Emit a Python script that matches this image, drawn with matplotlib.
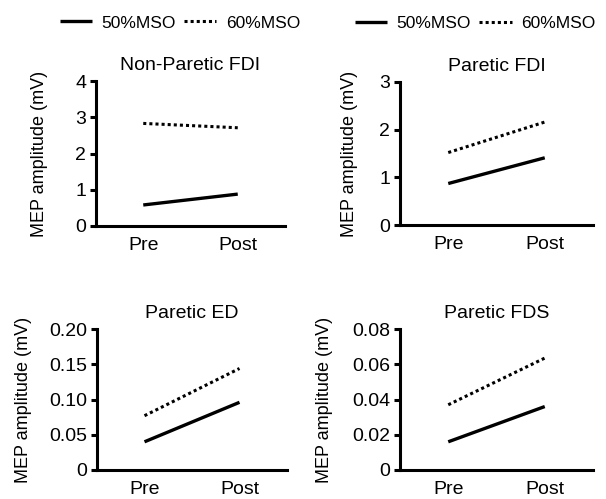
import matplotlib.pyplot as plt

plt.rcParams['font.family'] = ['Liberation Sans', 'DejaVu Sans']

phases = ['Pre', 'Post']
titles = ['Non-Paretic FDI', 'Paretic FDI', 'Paretic ED', 'Paretic FDS']
mso50 = [[0.58, 0.88], [0.87, 1.41], [0.040, 0.096], [0.016, 0.036]]
mso60 = [[2.83, 2.71], [1.52, 2.16], [0.077, 0.144], [0.037, 0.0635]]
yticks = [[0, 1, 2, 3, 4], [0, 1, 2, 3],
          [0, 0.05, 0.10, 0.15, 0.20], [0, 0.02, 0.04, 0.06, 0.08]]
yticklabels = [['0', '1', '2', '3', '4'], ['0', '1', '2', '3'],
               ['0', '0.05', '0.10', '0.15', '0.20'],
               ['0', '0.02', '0.04', '0.06', '0.08']]

fig = plt.figure(figsize=(6.06, 4.99), dpi=100)
W, H = 606, 499
# axes boxes in pixels: left, right, top, bottom
boxes = [(96, 285, 81, 226), (400, 593, 82, 225), (97, 287, 329, 470), (400, 593, 329, 470)]
label_x = [-0.254, -0.218, -0.342, -0.347]

for i in range(4):
    l, r, t, b = boxes[i]
    ax = fig.add_axes([l / W, 1 - b / H, (r - l) / W, (b - t) / H])
    x = range(len(phases))
    ax.plot(x, mso50[i], color='black', lw=2.4, label='50%MSO', solid_capstyle='butt')
    ax.plot(x, mso60[i], color='black', lw=2.2, linestyle=(0, (1, 1)), label='60%MSO')
    ax.set_xlim(-0.5, 1.5)
    ax.set_ylim(0, yticks[i][-1])
    ax.set_xticks(list(x))
    ax.set_xticklabels(phases)
    ax.set_yticks(yticks[i])
    ax.set_yticklabels(yticklabels[i])
    for s in ['top', 'right']:
        ax.spines[s].set_visible(False)
    for s in ['left', 'bottom']:
        ax.spines[s].set_linewidth(2.2)
    ax.tick_params(axis='y', length=4, width=2.2, labelsize=14, pad=3)
    ax.tick_params(axis='x', length=0, labelsize=14, pad=8)
    ax.set_title(titles[i], fontsize=14, pad=8)
    ax.set_ylabel('MEP amplitude (mV)', fontsize=13)
    ax.yaxis.set_label_coords(label_x[i], 0.5)
    if i == 0:
        ax.legend(loc='center', bbox_to_anchor=(0.444, 1.40), ncol=2, frameon=False,
                  fontsize=12.5, handlelength=1.85, handletextpad=0.55, columnspacing=0.5)
    if i == 1:
        ax.legend(loc='center', bbox_to_anchor=(0.389, 1.41), ncol=2, frameon=False,
                  fontsize=12.5, handlelength=1.85, handletextpad=0.55, columnspacing=0.5)

fig.savefig('out.png', dpi=100)
